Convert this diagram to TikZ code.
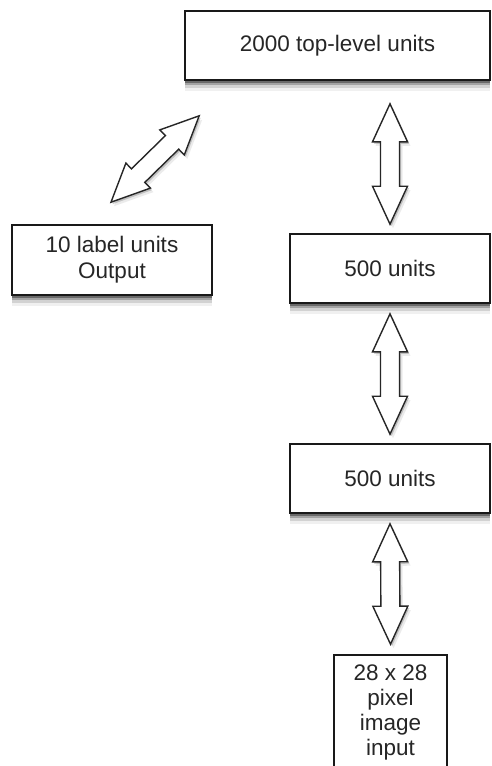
\documentclass[tikz,border=0pt]{standalone}
\usepackage{fontspec}
\setmainfont{Liberation Sans}
\usetikzlibrary{calc,shadows}
\tikzset{
  softshadow/.style={
    drop shadow={shadow xshift=0pt,shadow yshift=-2.5pt,opacity=0.35,fill=black},
    drop shadow={shadow xshift=0pt,shadow yshift=-5pt,opacity=0.22,fill=black},
    drop shadow={shadow xshift=0pt,shadow yshift=-8pt,opacity=0.12,fill=black},
    drop shadow={shadow xshift=0pt,shadow yshift=-11pt,opacity=0.06,fill=black}},
  arrowshadow/.style={
    drop shadow={shadow xshift=1.5pt,shadow yshift=-2pt,opacity=0.18,fill=black},
    drop shadow={shadow xshift=3pt,shadow yshift=-4pt,opacity=0.08,fill=black}},
  unitbox/.style={draw=black!90,line width=1.6pt,fill=white,rectangle,inner sep=0pt,
    text=black!85,font=\fontsize{22.5}{26}\selectfont,align=center,softshadow},
  blockarrow/.style={draw=black!85,line width=1.4pt,fill=white,line join=miter,arrowshadow}
}
\newcommand{\blockarr}[2]{%
  \coordinate (ha) at ($(#1)!38pt!(#2)$);
  \coordinate (hb) at ($(#2)!38pt!(#1)$);
  \draw[blockarrow] (#1) -- ($(ha)!17.5pt!90:(#2)$) -- ($(ha)!9.5pt!90:(#2)$)
    -- ($(hb)!9.5pt!-90:(#1)$) -- ($(hb)!17.5pt!-90:(#1)$) -- (#2)
    -- ($(hb)!17.5pt!90:(#1)$) -- ($(hb)!9.5pt!90:(#1)$)
    -- ($(ha)!9.5pt!-90:(#2)$) -- ($(ha)!17.5pt!-90:(#2)$) -- cycle;
}
\begin{document}
\begin{tikzpicture}[x=1pt,y=-1pt]
\useasboundingbox (0,0) rectangle (491,766);
\fill[white] (0,0) rectangle (491,766);
\clip (0,0) rectangle (491,766);

\node[unitbox,minimum width=305pt,minimum height=69pt] (top) at (337.5,45.5) {2000 top-level units};
\node[unitbox,minimum width=200pt,minimum height=70pt] (label) at (112,260) {10 label units\\Output};
\node[unitbox,minimum width=200pt,minimum height=69pt] (b1) at (390,268.5) {500 units};
\node[unitbox,minimum width=200pt,minimum height=69pt] (b2) at (390,478.5) {500 units};
\node[unitbox,minimum width=113pt,minimum height=114pt,font=\fontsize{22.5}{25}\selectfont] (input) at (390.5,712) {28 x 28\\pixel\\image\\input};

\coordinate (d1) at ([xshift=15pt,yshift=-35pt]top.south west);
\coordinate (d2) at ([xshift=-1pt,yshift=22pt]label.north);
\coordinate (a1s) at ([yshift=-23pt]top.south -| b1.north);
\coordinate (a1e) at ([yshift=9pt]b1.north);
\coordinate (a2s) at ([yshift=-10pt]b1.south);
\coordinate (a2e) at ([yshift=9pt]b2.north);
\coordinate (a3s) at ([yshift=-10pt]b2.south);
\coordinate (a3e) at ([yshift=10pt]input.north);

\blockarr{d1}{d2}
\blockarr{a1s}{a1e}
\blockarr{a2s}{a2e}
\blockarr{a3s}{a3e}
\end{tikzpicture}
\end{document}
